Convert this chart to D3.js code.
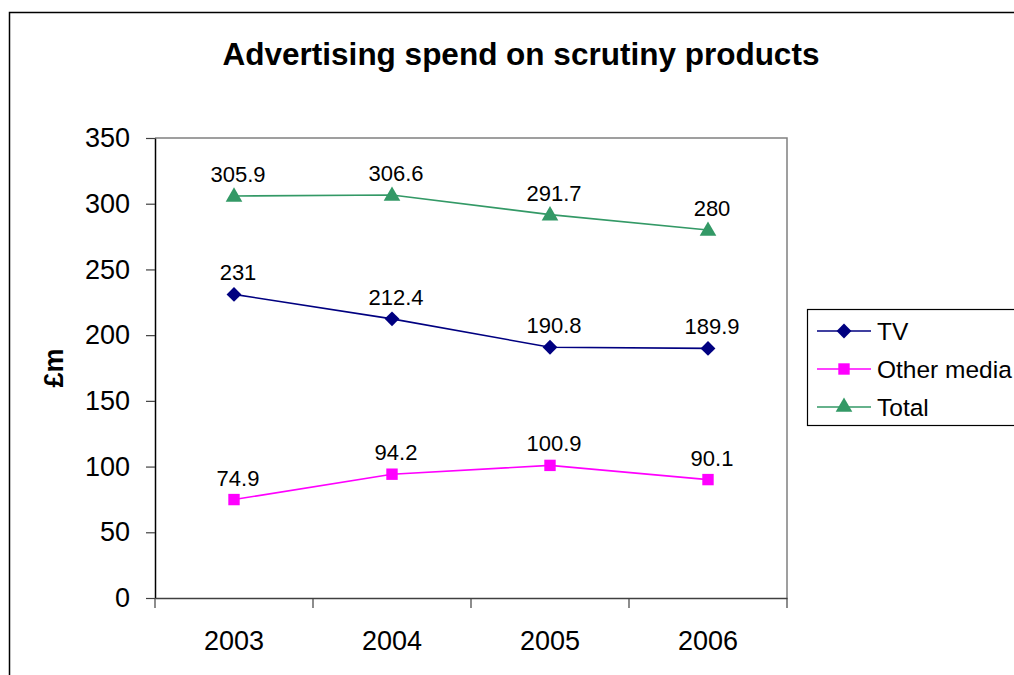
<!DOCTYPE html>
<html>
<head>
<meta charset="utf-8">
<script src="https://cdn.jsdelivr.net/npm/d3@7"></script>
<style>
  body { margin: 0; background: #fff; }
  svg { display: block; font-family: "Liberation Sans", Arial, sans-serif; }
</style>
</head>
<body>
<div id="chart"></div>
<script>
const years = ["2003", "2004", "2005", "2006"];
const tvValues = [231, 212.4, 190.8, 189.9];
const otherValues = [74.9, 94.2, 100.9, 90.1];
const totalValues = [305.9, 306.6, 291.7, 280];
const yTicks = [0, 50, 100, 150, 200, 250, 300, 350];

// square diamond (equal width and height)
const squareDiamond = {
    draw(ctx, size) {
        const r = Math.sqrt(size / 2);
        ctx.moveTo(0, -r); ctx.lineTo(r, 0); ctx.lineTo(0, r); ctx.lineTo(-r, 0); ctx.closePath();
    }
};

const series = [
    { name: "TV", values: tvValues, color: "#000080", shape: squareDiamond, size: 110 },
    { name: "Other media", values: otherValues, color: "#FF00FF", shape: d3.symbolSquare, size: 130 },
    { name: "Total", values: totalValues, color: "#339966", shape: d3.symbolTriangle, size: 120 }
];

const width = 1014, height = 675;
const plot = { left: 155, top: 138, right: 787, bottom: 598 };

const svg = d3.select("#chart").append("svg").attr("width", width).attr("height", height);

// outer chart frame
svg.append("rect").attr("x", 9.5).attr("y", 12.5).attr("width", width + 10).attr("height", height + 10)
    .attr("fill", "#fff").attr("stroke", "#000").attr("stroke-width", 1.5);

svg.append("text").attr("x", 521).attr("y", 65).attr("text-anchor", "middle")
    .attr("font-size", 31.5).attr("font-weight", "bold").text("Advertising spend on scrutiny products");

const x = d3.scaleBand().domain(years).range([plot.left, plot.right]);
const y = d3.scaleLinear().domain([0, 350]).range([plot.bottom, plot.top]);

// plot area border (top/right grey)
svg.append("path")
    .attr("d", `M${plot.left},${plot.top}H${plot.right}V${plot.bottom}`)
    .attr("fill", "none").attr("stroke", "#808080").attr("stroke-width", 1.5);

const gy = svg.append("g").attr("transform", `translate(${plot.left},0)`)
    .call(d3.axisLeft(y).tickValues(yTicks).tickSize(9).tickSizeOuter(0).tickPadding(16));
gy.select(".domain").attr("stroke", "#000").attr("stroke-width", 1.5);
gy.selectAll(".tick line").attr("stroke", "#404040").attr("stroke-width", 1.2);
gy.selectAll(".tick text").attr("font-size", 27).attr("fill", "#000")
    .attr("font-family", "Liberation Sans, Arial, sans-serif");

const gx = svg.append("g").attr("transform", `translate(0,${plot.bottom})`)
    .call(d3.axisBottom(x).tickSize(0).tickSizeOuter(0).tickPadding(0));
gx.select(".domain").attr("stroke", "#404040").attr("stroke-width", 1.5);
gx.selectAll(".tick text").attr("font-size", 27).attr("fill", "#000").attr("dy", 0).attr("y", 52)
    .attr("font-family", "Liberation Sans, Arial, sans-serif");
// category separators
gx.selectAll(".sep").data(years.concat(["end"])).enter().append("line").attr("class", "sep")
    .attr("x1", (d, i) => plot.left + i * x.bandwidth()).attr("x2", (d, i) => plot.left + i * x.bandwidth())
    .attr("y1", 0).attr("y2", 10).attr("stroke", "#404040").attr("stroke-width", 1.2);

svg.append("text").attr("transform", `translate(63,368) rotate(-90)`).attr("text-anchor", "middle")
    .attr("font-size", 27).attr("font-weight", "bold").text("£m");

const cx = i => x(years[i]) + x.bandwidth() / 2;
const line = d3.line().x((d, i) => cx(i)).y(d => y(d));

series.forEach(s => {
    const g = svg.append("g");
    g.append("path").attr("d", line(s.values)).attr("fill", "none")
        .attr("stroke", s.color).attr("stroke-width", 1.6);
    g.selectAll("path.mark").data(s.values).enter().append("path").attr("class", "mark")
        .attr("d", d3.symbol().type(s.shape).size(s.size))
        .attr("transform", (d, i) => `translate(${cx(i)},${y(d) + (s.shape === d3.symbolTriangle ? 1 : 0)})`)
        .attr("fill", s.color);
    g.selectAll("text").data(s.values).enter().append("text")
        .attr("x", (d, i) => cx(i) + 4).attr("y", d => y(d) - 14)
        .attr("text-anchor", "middle").attr("font-size", 22).text(d => d);
});

// legend
const legend = svg.append("g").attr("transform", "translate(807,309)");
legend.append("rect").attr("x", 0.5).attr("y", 0.5).attr("width", 260).attr("height", 116)
    .attr("fill", "#fff").attr("stroke", "#000").attr("stroke-width", 1.2);
series.forEach((s, i) => {
    const ly = 22 + i * 38;
    legend.append("line").attr("x1", 10).attr("x2", 64).attr("y1", ly).attr("y2", ly)
        .attr("stroke", s.color).attr("stroke-width", 1.6);
    legend.append("path").attr("d", d3.symbol().type(s.shape).size(s.size))
        .attr("transform", `translate(37,${ly})`).attr("fill", s.color);
    legend.append("text").attr("x", 70).attr("y", ly + 8.5).attr("font-size", 24.5).text(s.name);
});
</script>
</body>
</html>
